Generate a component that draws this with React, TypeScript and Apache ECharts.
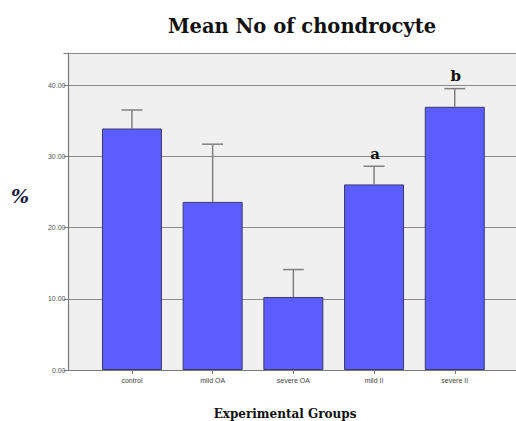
import React, { useEffect, useRef } from "react";
import * as echarts from "echarts";

const categories = ["control", "mild OA", "severe OA", "mild II", "severe II"];
const means = [33.9, 23.6, 10.25, 26.05, 36.95];
const upper = [36.5, 31.7, 14.1, 28.6, 39.5];
const sigLetters = ["", "", "", "a", "b"];
const yTicks = [0, 10, 20, 30, 40];

export default function App() {
  const ref = useRef<HTMLDivElement>(null);
  useEffect(() => {
    if (!ref.current) return;
    const chart = echarts.init(ref.current, undefined, { renderer: "svg" });
    const yMax = 44.5;
    const option: any = {
      animation: false,
      grid: [
        { left: 68.5, right: 0, top: 53, bottom: 51, show: true, backgroundColor: "#F0F0F0", borderWidth: 0 },
        { left: 91.6, right: 20.9, top: 53, bottom: 51 },
      ],
      xAxis: [
        {
          gridIndex: 0, type: "value", min: 0, max: 1, position: "bottom",
          axisLine: { show: true, lineStyle: { color: "#7a7a7a", width: 1.2 } },
          axisTick: { show: false }, axisLabel: { show: false }, splitLine: { show: false },
        },
        {
          gridIndex: 0, type: "value", min: 0, max: 1, position: "top",
          axisLine: { show: true, lineStyle: { color: "#8a8a8a", width: 1.2 } },
          axisTick: { show: false }, axisLabel: { show: false }, splitLine: { show: false },
        },
        {
          gridIndex: 1, type: "category", data: categories,
          axisLine: { show: false },
          axisTick: { show: true, alignWithLabel: true, length: 4, lineStyle: { color: "#7a7a7a" } },
          axisLabel: { fontSize: 7, color: "#444", margin: 7, fontFamily: "Liberation Sans" },
        },
      ],
      yAxis: [
        {
          gridIndex: 0, type: "value", min: 0, max: yMax, interval: 10,
          axisLine: { show: true, lineStyle: { color: "#7a7a7a", width: 1.2 } },
          axisTick: { show: true, length: 5, lineStyle: { color: "#7a7a7a" } },
          axisLabel: {
            fontSize: 7, color: "#555", margin: 3, fontFamily: "Liberation Sans",
            formatter: (v: number) => (yTicks.includes(v) ? v.toFixed(2) : ""),
          },
          splitLine: { show: true, lineStyle: { color: "#8a8a8a", width: 1.2 } },
        },
        {
          gridIndex: 1, type: "value", min: 0, max: yMax, interval: 10,
          axisLine: { show: false }, axisTick: { show: false }, axisLabel: { show: false }, splitLine: { show: false },
        },
      ],
      series: [
        {
          type: "bar", xAxisIndex: 2, yAxisIndex: 1, data: means, barWidth: 60,
          itemStyle: { color: "#5C5CFF", borderColor: "#3a3a6a", borderWidth: 1 },
        },
        {
          type: "custom", xAxisIndex: 2, yAxisIndex: 1, z: 5,
          data: categories.map((_, i) => [i, means[i], upper[i]]),
          renderItem: (params: any, api: any) => {
            const i = api.value(0);
            const lo = api.coord([i, api.value(1)]);
            const hi = api.coord([i, api.value(2)]);
            const cap = 10.5;
            const style = { stroke: "#808080", lineWidth: 1.5 };
            const children: any[] = [
              { type: "line", shape: { x1: lo[0], y1: lo[1], x2: hi[0], y2: hi[1] }, style },
              { type: "line", shape: { x1: hi[0] - cap, y1: hi[1], x2: hi[0] + cap, y2: hi[1] }, style },
            ];
            const letter = sigLetters[params.dataIndex];
            if (letter) {
              children.push({
                type: "text",
                style: {
                  text: letter, x: hi[0] + 1, y: hi[1] - 5, align: "center", verticalAlign: "bottom",
                  font: "bold 15px 'DejaVu Serif'", fill: "#111",
                },
              });
            }
            return { type: "group", children };
          },
        },
      ],
      graphic: [
        {
          type: "text", x: 302, y: 26,
          style: {
            text: "Mean No of chondrocyte", align: "center", verticalAlign: "middle",
            font: "bold 19.5px 'DejaVu Serif'", fill: "#111",
          },
        },
        {
          type: "text", x: 285, y: 414,
          style: {
            text: "Experimental Groups", align: "center", verticalAlign: "middle",
            font: "bold 12px 'DejaVu Serif'", fill: "#111",
          },
        },
        {
          type: "text", x: 20, y: 196,
          style: {
            text: "%", align: "center", verticalAlign: "middle",
            font: "italic bold 19px 'DejaVu Serif'", fill: "#1a1a3a",
          },
        },
      ],
    };
    chart.setOption(option);
    return () => chart.dispose();
  }, []);
  return <div ref={ref} style={{ position: "absolute", left: 0, top: 0, width: 516, height: 421 }} />;
}
